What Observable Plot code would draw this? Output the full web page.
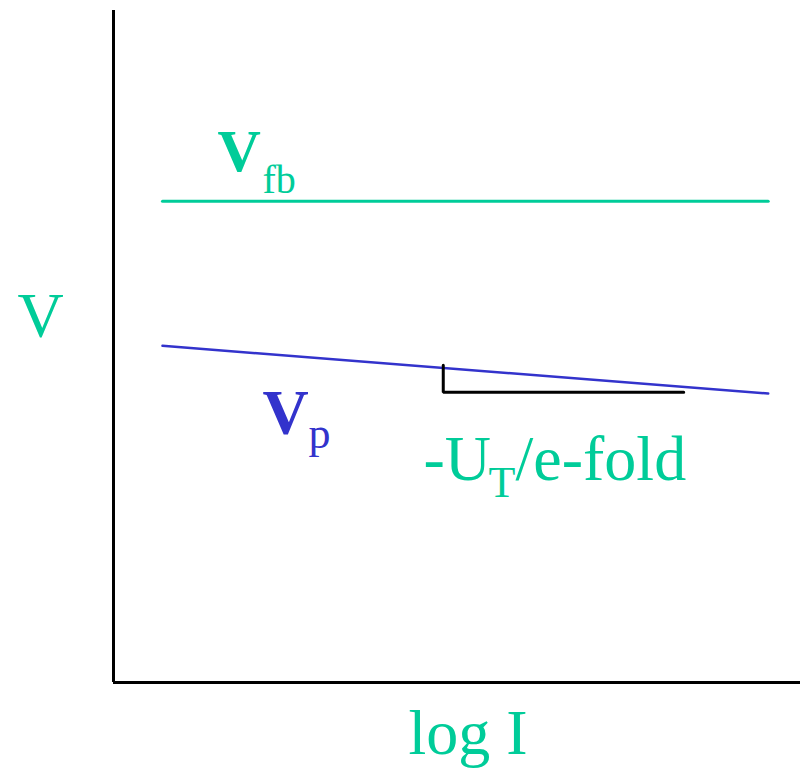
<!DOCTYPE html>
<html>
<head>
<meta charset="utf-8">
<script src="https://cdn.jsdelivr.net/npm/d3@7"></script>
<script src="https://cdn.jsdelivr.net/npm/@observablehq/plot@0.6"></script>
<style>
  html, body { margin: 0; padding: 0; background: #fff; }
  svg { overflow: visible; }
</style>
</head>
<body>
<div id="chart"></div>
<script>
// Data (abstract units: x = log I, y = V)
const lineX = [0.713, 9.53];
const vfbY = [7.16, 7.16];
const vpY = [5.01, 4.30];
const triX = [4.80, 4.80, 8.30];
const triY = [4.72, 4.32, 4.32];

const labelText = ["V", "V", "fb", "V", "p", "-U", "T", "/e-fold", "log I"];
const labelX = [-1.397, 1.514, 2.169, 2.169, 2.838, 4.512, 5.459, 5.852, 4.294];
const labelY = [5.134, 7.619, 7.277, 3.705, 3.497, 3.006, 2.753, 3.006, -1.057];

const GREEN = "#00CC99", BLUE = "#3333CC";
const styles = [
  {fontSize: 64, fontWeight: "normal", fill: GREEN},
  {fontSize: 60, fontWeight: "bold", fill: GREEN},
  {fontSize: 40, fontWeight: "normal", fill: GREEN},
  {fontSize: 64, fontWeight: "bold", fill: BLUE},
  {fontSize: 44, fontWeight: "normal", fill: BLUE},
  {fontSize: 64, fontWeight: "normal", fill: GREEN},
  {fontSize: 44, fontWeight: "normal", fill: GREEN},
  {fontSize: 64, fontWeight: "normal", fill: GREEN},
  {fontSize: 64, fontWeight: "normal", fill: GREEN}
];

const vfb = lineX.map((x, i) => ({x, y: vfbY[i]}));
const vp = lineX.map((x, i) => ({x, y: vpY[i]}));
const tri = triX.map((x, i) => ({x, y: triY[i]}));

const textMarks = labelText.map((t, i) => Plot.text([t], {
  x: () => labelX[i], y: () => labelY[i], text: d => d,
  textAnchor: "start", lineAnchor: "bottom",
  fontFamily: "Liberation Serif, Times New Roman, serif",
  ...styles[i]
}));

const chart = Plot.plot({
  width: 805,
  height: 775,
  marginLeft: 113,
  marginRight: 5,
  marginTop: 10,
  marginBottom: 93,
  x: {domain: [0, 10], axis: null},
  y: {domain: [0, 10], axis: null},
  style: {background: "#fff", overflow: "visible"},
  marks: [
    Plot.ruleX([0], {stroke: "black", strokeWidth: 3}),
    Plot.ruleY([0], {stroke: "black", strokeWidth: 3}),
    Plot.line(vfb, {x: "x", y: "y", stroke: GREEN, strokeWidth: 3}),
    Plot.line(vp, {x: "x", y: "y", stroke: BLUE, strokeWidth: 2.5}),
    Plot.line(tri, {x: "x", y: "y", stroke: "black", strokeWidth: 3, strokeLinejoin: "miter"}),
    ...textMarks
  ]
});
document.getElementById("chart").appendChild(chart);
</script>
</body>
</html>
